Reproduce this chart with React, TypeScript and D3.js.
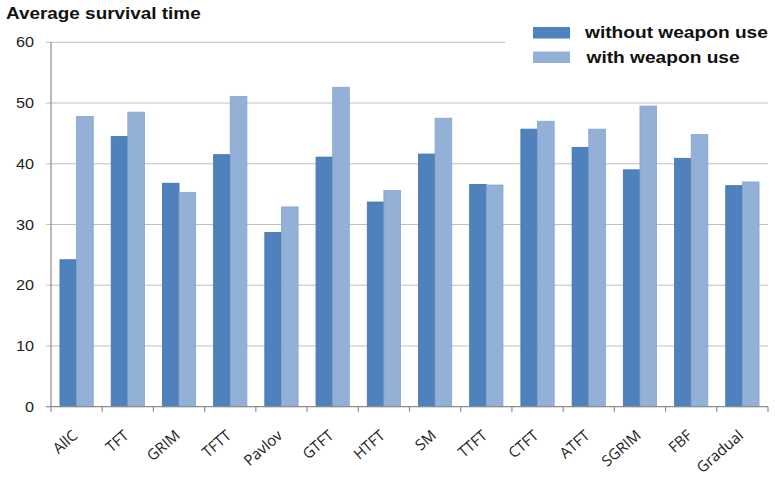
import React from "react";
import * as d3 from "d3";

const categories = ["AllC", "TFT", "GRIM", "TFTT", "Pavlov", "GTFT", "HTFT", "SM", "TTFT", "CTFT", "ATFT", "SGRIM", "FBF", "Gradual"];
const withoutWeapon = [24.2, 44.5, 36.8, 41.5, 28.7, 41.1, 33.7, 41.6, 36.6, 45.7, 42.7, 39.0, 40.9, 36.4];
const withWeapon = [47.8, 48.5, 35.3, 51.1, 32.9, 52.6, 35.6, 47.5, 36.5, 47.0, 45.7, 49.5, 44.8, 37.0];
const seriesNames = ["without weapon use", "with weapon use"];
const yTicks = [0, 10, 20, 30, 40, 50, 60];
const title = "Average survival time";

const W = 775;
const H = 478;
const SX = 1.16;
const colors = ["#4F81BD", "#93B1D7"];
const strokes = ["#4574AE", "#86A5CE"];

export default function App() {
  const left = 51;
  const right = 768;
  const y = d3.scaleLinear().domain([0, 60]).range([406.7, 42.3]);
  const x = d3.scaleBand<string>().domain(categories).range([left, right]).paddingInner(0.35).paddingOuter(0.175);
  const inner = d3.scaleBand<string>().domain(seriesNames).range([0, x.bandwidth()]);
  const step = x.step();
  const series = [withoutWeapon, withWeapon];
  const font = "'Liberation Sans', Arial, sans-serif";

  return (
    <svg width={W} height={H} style={{ position: "absolute", left: 0, top: 0, background: "#fff" }} fontFamily={font}>
      <rect x={0} y={0} width={W} height={H} fill="#fff" />
      {yTicks.filter((t) => t > 0).map((t) => (
        <line key={t} x1={left - 5} x2={right} y1={y(t)} y2={y(t)} stroke="#BFBFBF" strokeWidth={1} />
      ))}
      <rect x={505} y={8} width={270} height={66} fill="#fff" />
      {categories.map((c, i) => (
        <g key={c}>
          {series.map((s, j) => (
            <rect
              key={j}
              x={(x(c) as number) + (inner(seriesNames[j]) as number)}
              y={y(s[i])}
              width={inner.bandwidth()}
              height={y(0) - y(s[i])}
              fill={colors[j]}
              stroke={strokes[j]}
              strokeWidth={0.8}
            />
          ))}
        </g>
      ))}
      <line x1={left} x2={left} y1={y(60)} y2={y(0)} stroke="#8C8C8C" strokeWidth={1.2} />
      <line x1={left - 5} x2={left} y1={y(0)} y2={y(0)} stroke="#8C8C8C" strokeWidth={1.2} />
      {yTicks.map((t) => (
        <text
          key={t}
          transform={`translate(${34},${y(t) + 5}) scale(${SX},1)`}
          textAnchor="end"
          fontSize={14}
          fill="#222"
        >
          {t}
        </text>
      ))}
      <line x1={left} x2={right} y1={y(0)} y2={y(0)} stroke="#8C8C8C" strokeWidth={1.2} />
      {d3.range(categories.length + 1).map((i) => (
        <line key={i} x1={left + i * step} x2={left + i * step} y1={y(0)} y2={y(0) + 5} stroke="#8C8C8C" strokeWidth={1.2} />
      ))}
      {categories.map((c) => (
        <text
          key={c}
          transform={`translate(${(x(c) as number) + x.bandwidth() / 2 + 2},${437}) rotate(-41)`}
          textAnchor="end"
          fontSize={15}
          fontFamily="'Open Sans', 'Liberation Sans', sans-serif"
          fill="#222"
        >
          {c}
        </text>
      ))}
      <text transform={`translate(6,18.5) scale(${SX},1)`} fontSize={16.3} fontWeight="bold" fill="#111">
        {title}
      </text>
      {seriesNames.map((n, j) => (
        <g key={n}>
          <rect x={533} y={27 + j * 24.5} width={37} height={11.5} fill={colors[j]} />
          <text transform={`translate(${585 + j * 1.5},${38 + j * 24.5}) scale(${SX - 0.02},1)`} fontSize={16.8} fontWeight="bold" fill="#111">
            {n}
          </text>
        </g>
      ))}
    </svg>
  );
}
